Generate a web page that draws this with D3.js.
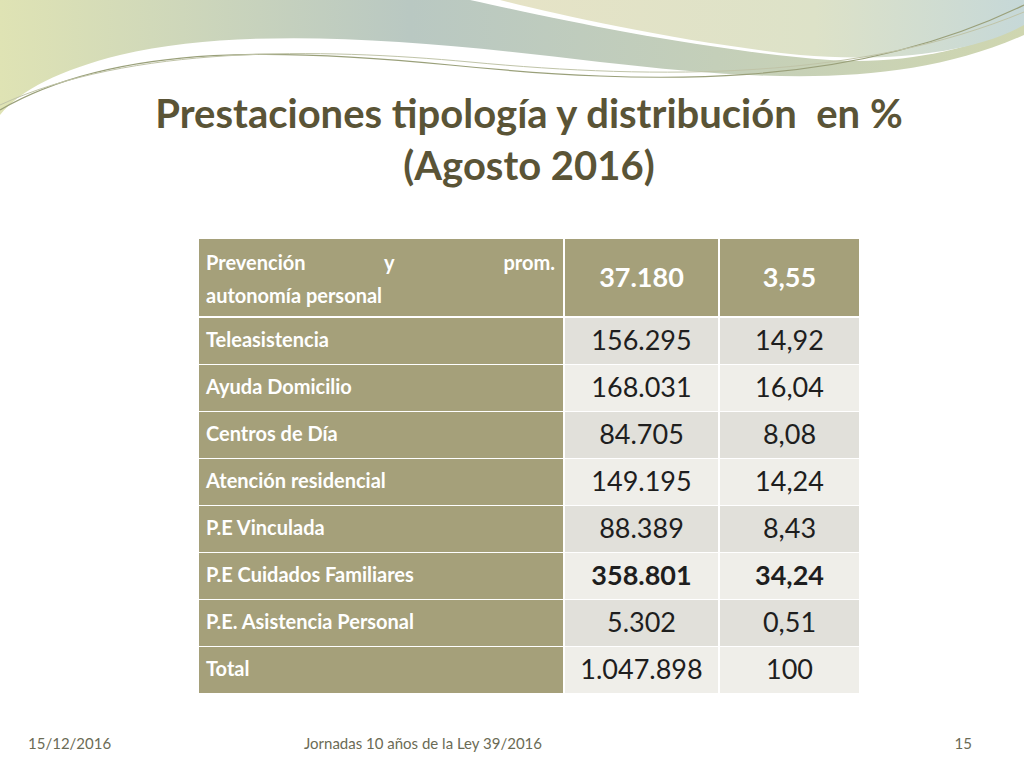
<!DOCTYPE html>
<html><head><meta charset="utf-8">
<script src="https://cdn.jsdelivr.net/npm/d3@7"></script>
<style>body{margin:0;background:#fff}svg{display:block}text{white-space:pre}</style>
</head><body>
<svg id="c" width="1024" height="768"></svg>
<script>
const categories=["Prevención y prom. autonomía personal","Teleasistencia","Ayuda Domicilio","Centros de Día","Atención residencial","P.E Vinculada","P.E Cuidados Familiares","P.E. Asistencia Personal","Total"];
const counts=["37.180","156.295","168.031","84.705","149.195","88.389","358.801","5.302","1.047.898"];
const percents=["3,55","14,92","16,04","8,08","14,24","8,43","34,24","0,51","100"];
const boldRows=[0,6];

const svg=d3.select("#c");
const F="Lato, 'Open Sans', sans-serif";
const defs=svg.append("defs");
const g1=defs.append("linearGradient").attr("id","g1").attr("x1",0).attr("x2",1).attr("y1",0).attr("y2",0);
g1.append("stop").attr("offset","0").attr("stop-color","#dfe3b4");
g1.append("stop").attr("offset","0.4").attr("stop-color","#b9c8c2");
g1.append("stop").attr("offset","1").attr("stop-color","#cfd6b0");
const g2=defs.append("linearGradient").attr("id","g2").attr("x1",0).attr("x2",1).attr("y1",0).attr("y2",0);
g2.append("stop").attr("offset","0").attr("stop-color","#e6e3c6");
g2.append("stop").attr("offset","0.6").attr("stop-color","#dde2c8");
g2.append("stop").attr("offset","1").attr("stop-color","#c6d8d8");
svg.append("path").attr("d","M0,0 L1024,0 L1024,35 C900,90 760,80 600,62 C420,40 250,25 120,55 C60,70 20,90 0,115 Z").attr("fill","url(#g1)");
svg.append("path").attr("d","M470,0 L1024,0 L1024,20 C980,50 900,65 830,60 C700,50 560,20 470,0 Z").attr("fill","#fff");
svg.append("path").attr("d","M500,0 L1024,0 L1024,25 C970,55 880,62 800,55 C680,42 560,15 500,0 Z").attr("fill","url(#g2)");
svg.append("path").attr("d","M0,110 C120,40 300,50 450,65 C650,85 850,90 1024,5").attr("fill","none").attr("stroke","#9aa07a").attr("stroke-width",1.2);
svg.append("path").attr("d","M0,105 C130,45 320,48 470,62 C660,80 860,80 1024,12").attr("fill","none").attr("stroke","#c0c4a8").attr("stroke-width",1);

svg.append("text").attr("x",529).attr("y",128).attr("text-anchor","middle").attr("font-family",F).attr("font-weight","bold").attr("font-size",40).attr("fill","#5a5436").text("Prestaciones tipología y distribución  en %");
svg.append("text").attr("x",529).attr("y",180).attr("text-anchor","middle").attr("font-family",F).attr("font-weight","bold").attr("font-size",40).attr("fill","#5a5436").text("(Agosto 2016)");

const rowTops=[239,318,365,412,459,506,553,600,647];
const rowBottoms=[316,364,411,458,505,552,599,646,693];
const cols=[[199,563],[565,718],[720,859]];
categories.forEach((c,i)=>{
  const y0=rowTops[i],y1=rowBottoms[i],h=y1-y0;
  const head=i===0;
  const bg=head?"#a5a07a":(i%2===1?"#e1e0da":"#efeee9");
  svg.append("rect").attr("x",cols[0][0]).attr("y",y0).attr("width",cols[0][1]-cols[0][0]).attr("height",h).attr("fill","#a5a07a");
  svg.append("rect").attr("x",cols[1][0]).attr("y",y0).attr("width",cols[1][1]-cols[1][0]).attr("height",h).attr("fill",bg);
  svg.append("rect").attr("x",cols[2][0]).attr("y",y0).attr("width",cols[2][1]-cols[2][0]).attr("height",h).attr("fill",bg);
  const cy=(y0+y1)/2;
  if(head){
    const t=svg.append("g").attr("font-family",F).attr("font-weight","bold").attr("font-size",20).attr("fill","#fff");
    t.append("text").attr("x",206).attr("y",270).text("Prevención");
    t.append("text").attr("x",384).attr("y",270).text("y");
    t.append("text").attr("x",555).attr("y",270).attr("text-anchor","end").text("prom.");
    t.append("text").attr("x",206).attr("y",303).text("autonomía personal");
  } else {
    svg.append("text").attr("x",206).attr("y",cy+6).attr("font-family",F).attr("font-weight","bold").attr("font-size",20).attr("fill","#fff").text(c);
  }
  const bold=head||boldRows.includes(i);
  const col=head?"#fff":"#1e1e1e";
  svg.append("text").attr("x",(cols[1][0]+cols[1][1])/2).attr("y",cy+9).attr("text-anchor","middle").attr("font-family",F).attr("font-weight",bold?"bold":"normal").attr("font-size",27).attr("fill",col).text(counts[i]);
  svg.append("text").attr("x",(cols[2][0]+cols[2][1])/2).attr("y",cy+9).attr("text-anchor","middle").attr("font-family",F).attr("font-weight",bold?"bold":"normal").attr("font-size",27).attr("fill",col).text(percents[i]);
});

const ft=svg.append("g").attr("font-family",F).attr("font-size",15).attr("fill","#6b6b55");
ft.append("text").attr("x",28).attr("y",749).text("15/12/2016");
ft.append("text").attr("x",423).attr("y",749).attr("text-anchor","middle").text("Jornadas 10 años de la Ley 39/2016");
ft.append("text").attr("x",972).attr("y",749).attr("text-anchor","end").text("15");
</script>
</body></html>
